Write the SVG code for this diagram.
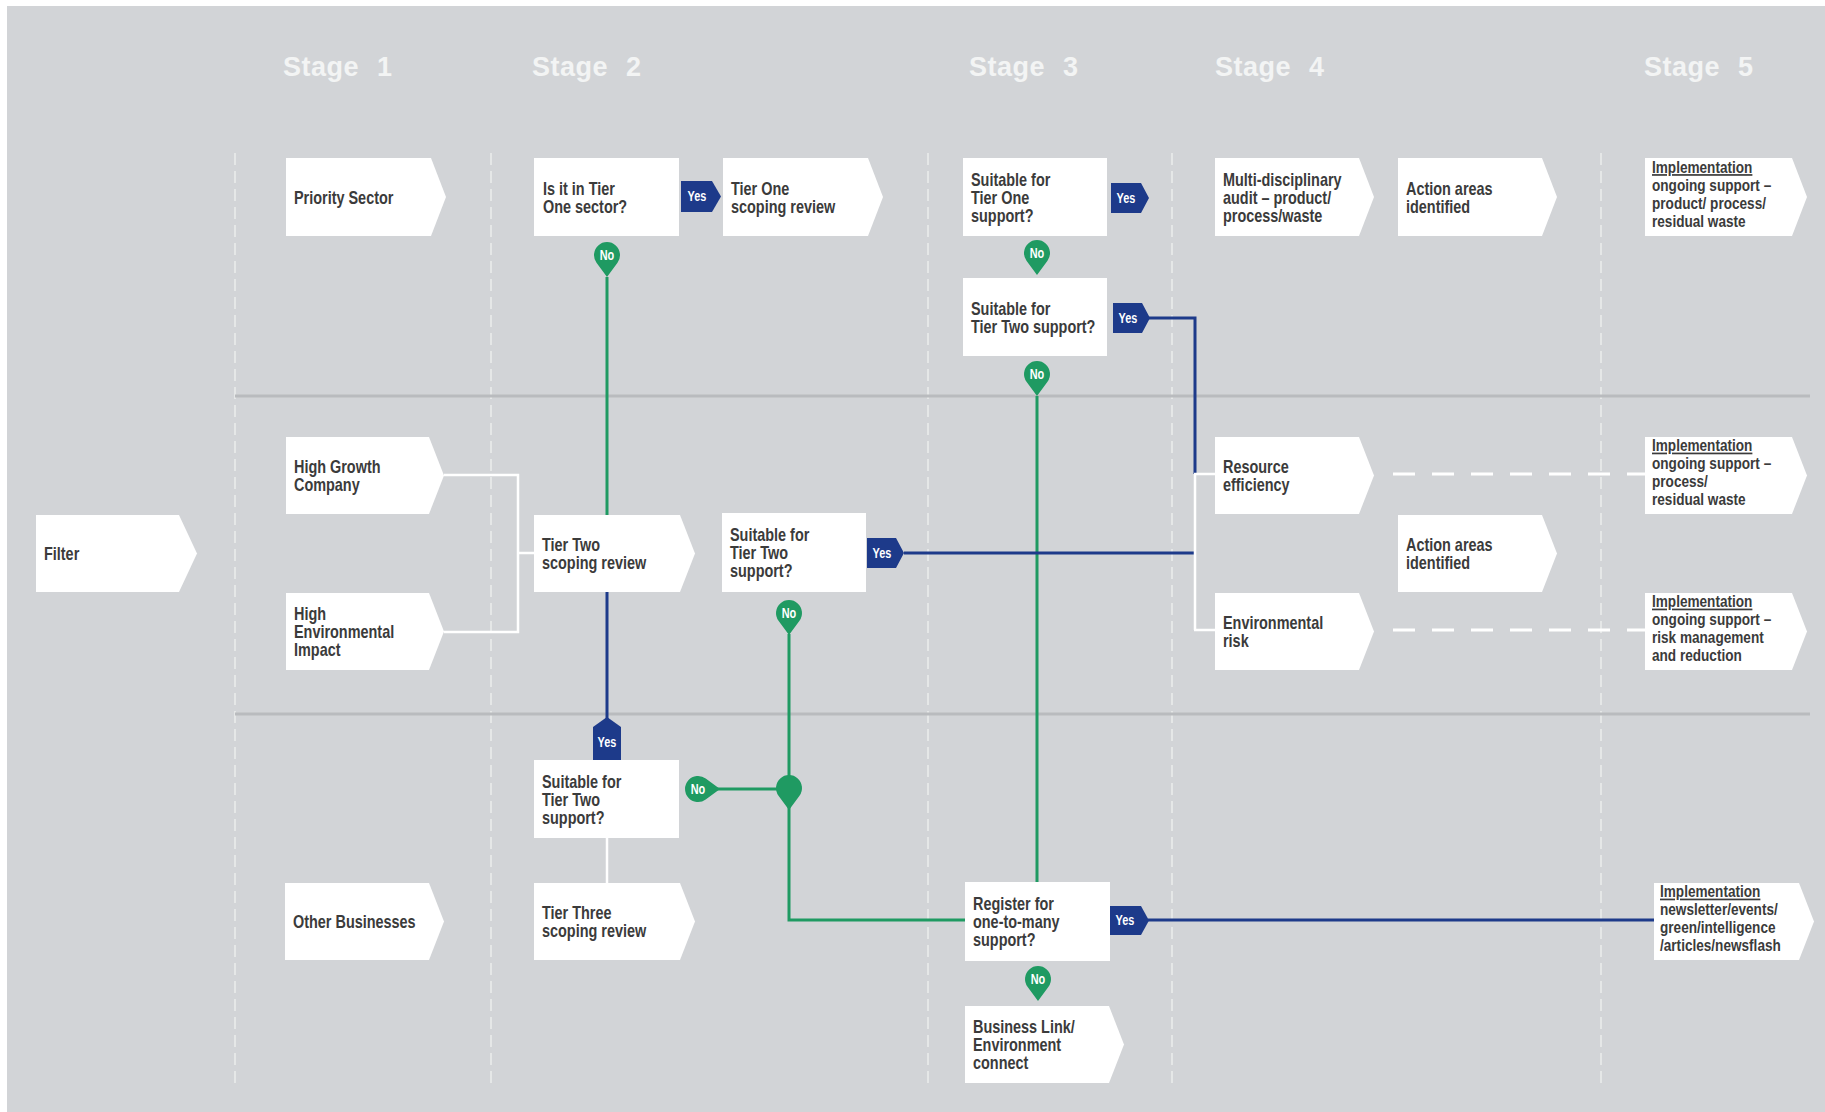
<svg xmlns="http://www.w3.org/2000/svg" width="1825" height="1112" viewBox="0 0 1825 1112">
<style>
.bg{fill:#d2d4d7}
.node{fill:#ffffff}
.lbl{font-family:"Liberation Sans",Arial,sans-serif;font-size:18.5px;font-weight:bold;fill:#3b3b3b}
.l4{font-size:17px}
.stage{font-family:"Liberation Sans",Arial,sans-serif;font-size:27px;font-weight:bold;fill:#f3f4f4;letter-spacing:0.5px;word-spacing:10px}
.tag{font-family:"Liberation Sans",Arial,sans-serif;font-size:14px;font-weight:bold;fill:#ffffff;text-anchor:middle}
.u{text-decoration:underline}
.lane{stroke:#b9bbbe;stroke-width:3;fill:none}
.vdash{stroke:#eceded;stroke-width:1.5;stroke-dasharray:12 6;fill:none}
.green{stroke:#1f9a62;stroke-width:3;fill:none}
.blue{stroke:#1d3a8a;stroke-width:3;fill:none}
.white{stroke:#ffffff;stroke-width:2.5;fill:none}
.wdash{stroke:#ffffff;stroke-width:3;stroke-dasharray:22 17;fill:none}
.gfill{fill:#1f9a62}
.bfill{fill:#1d3a8a}
</style>
<defs>
<path id="pin" d="M-10.5 7.7 A13 13 0 1 1 10.5 7.7 L0 22 Z"/>
</defs>
<rect x="0" y="0" width="1825" height="1112" fill="#ffffff"/>
<rect class="bg" x="7" y="6" width="1818" height="1106"/>

<g id="grid">
<line class="vdash" x1="235" y1="153" x2="235" y2="1083"/>
<line class="vdash" x1="491" y1="153" x2="491" y2="1083"/>
<line class="vdash" x1="928" y1="153" x2="928" y2="1083"/>
<line class="vdash" x1="1172" y1="153" x2="1172" y2="1083"/>
<line class="vdash" x1="1601" y1="153" x2="1601" y2="1083"/>
<line class="lane" x1="235" y1="396" x2="1810" y2="396"/>
<line class="lane" x1="235" y1="714" x2="1810" y2="714"/>
</g>

<g id="stages">
<text class="stage" x="283" y="76">Stage 1</text>
<text class="stage" x="532" y="76">Stage 2</text>
<text class="stage" x="969" y="76">Stage 3</text>
<text class="stage" x="1215" y="76">Stage 4</text>
<text class="stage" x="1644" y="76">Stage 5</text>
</g>

<g id="connectors">
<path class="green" d="M607 277 V515"/>
<path class="green" d="M1037 396 V882"/>
<path class="green" d="M789 634 V920 H965"/>
<path class="green" d="M717 789 H789"/>
<path class="blue" d="M607 592 V720"/>
<path class="blue" d="M904 553 H1195"/>
<path class="blue" d="M1149 318 H1195 V474"/>
<path class="blue" d="M1148 920 H1654"/>
<path class="white" d="M444 475 H518 V632 H444 M518 553 H534"/>
<path class="white" d="M1195 474 V630 M1194 474 H1215 M1194 630 H1215"/>
<path class="white" d="M607 838 V883"/>
<path class="wdash" d="M1393 474 H1645"/>
<path class="wdash" d="M1393 630 H1645"/>
</g>

<g id="filter"><path class="node" d="M36 515 H179 L197 553.5 L179 592 H36 Z"/>
<text class="lbl" transform="translate(44 0) scale(0.78 1)" x="0" y="560.5">Filter</text></g>

<g id="priority-sector"><path class="node" d="M286 158 H431 L446 197 L431 236 H286 Z"/>
<text class="lbl" transform="translate(294 0) scale(0.78 1)" x="0" y="204">Priority Sector</text></g>

<g id="high-growth"><path class="node" d="M286 437 H429 L444 475.5 L429 514 H286 Z"/>
<text class="lbl" transform="translate(294 0) scale(0.78 1)"><tspan x="0" y="473.5">High Growth</tspan><tspan x="0" y="491.5">Company</tspan></text></g>

<g id="high-env"><path class="node" d="M286 593 H429 L444 631.5 L429 670 H286 Z"/>
<text class="lbl" transform="translate(294 0) scale(0.78 1)"><tspan x="0" y="620.5">High</tspan><tspan x="0" y="638.5">Environmental</tspan><tspan x="0" y="656.5">Impact</tspan></text></g>

<g id="other-businesses"><path class="node" d="M285 883 H429 L444 921.5 L429 960 H285 Z"/>
<text class="lbl" transform="translate(293 0) scale(0.78 1)" x="0" y="928.5">Other Businesses</text></g>

<g id="q-tier-one-sector"><rect class="node" x="534" y="158" width="145" height="78"/>
<text class="lbl" transform="translate(543 0) scale(0.78 1)"><tspan x="0" y="195">Is it in Tier</tspan><tspan x="0" y="213">One sector?</tspan></text>
<path class="bfill" d="M681 181 H712 L721 196.5 L712 212 H681 Z"/>
<text class="tag" transform="translate(697 0) scale(0.78 1)" x="0" y="201.5">Yes</text>
<use href="#pin" class="gfill" transform="translate(607 255)"/>
<text class="tag" transform="translate(607 0) scale(0.78 1)" x="0" y="260">No</text></g>

<g id="tier-one-review"><path class="node" d="M723 158 H868 L883 197 L868 236 H723 Z"/>
<text class="lbl" transform="translate(731 0) scale(0.78 1)"><tspan x="0" y="195">Tier One</tspan><tspan x="0" y="213">scoping review</tspan></text></g>

<g id="tier-two-review"><path class="node" d="M534 515 H680 L695 553.5 L680 592 H534 Z"/>
<text class="lbl" transform="translate(542 0) scale(0.78 1)"><tspan x="0" y="551.5">Tier Two</tspan><tspan x="0" y="569.5">scoping review</tspan></text></g>

<g id="q-tier-two-s2"><rect class="node" x="722" y="513" width="144" height="79"/>
<text class="lbl" transform="translate(730 0) scale(0.78 1)"><tspan x="0" y="541.5">Suitable for</tspan><tspan x="0" y="559.5">Tier Two</tspan><tspan x="0" y="577.5">support?</tspan></text>
<path class="bfill" d="M867 538 H896 L904 553 L896 568 H867 Z"/>
<text class="tag" transform="translate(882 0) scale(0.78 1)" x="0" y="558">Yes</text>
<use href="#pin" class="gfill" transform="translate(789 613)"/>
<text class="tag" transform="translate(789 0) scale(0.78 1)" x="0" y="618">No</text></g>

<g id="q-tier-two-lane3"><rect class="node" x="534" y="760" width="145" height="78"/>
<text class="lbl" transform="translate(542 0) scale(0.78 1)"><tspan x="0" y="788">Suitable for</tspan><tspan x="0" y="806">Tier Two</tspan><tspan x="0" y="824">support?</tspan></text>
<path class="bfill" d="M593 760 V727 L607 717 L621 727 V760 Z"/>
<text class="tag" transform="translate(607 0) scale(0.78 1)" x="0" y="747">Yes</text>
<use href="#pin" class="gfill" transform="translate(698 789) rotate(-90)"/>
<text class="tag" transform="translate(698 0) scale(0.78 1)" x="0" y="794">No</text></g>

<g id="junction"><use href="#pin" class="gfill" transform="translate(789 788)"/></g>

<g id="tier-three-review"><path class="node" d="M534 883 H680 L695 921.5 L680 960 H534 Z"/>
<text class="lbl" transform="translate(542 0) scale(0.78 1)"><tspan x="0" y="919.5">Tier Three</tspan><tspan x="0" y="937.5">scoping review</tspan></text></g>

<g id="q-tier-one-s3"><rect class="node" x="963" y="158" width="144" height="78"/>
<text class="lbl" transform="translate(971 0) scale(0.78 1)"><tspan x="0" y="186">Suitable for</tspan><tspan x="0" y="204">Tier One</tspan><tspan x="0" y="222">support?</tspan></text>
<path class="bfill" d="M1111 183 H1141 L1149 198 L1141 213 H1111 Z"/>
<text class="tag" transform="translate(1126 0) scale(0.78 1)" x="0" y="203">Yes</text>
<use href="#pin" class="gfill" transform="translate(1037 253)"/>
<text class="tag" transform="translate(1037 0) scale(0.78 1)" x="0" y="258">No</text></g>

<g id="q-tier-two-s3"><rect class="node" x="963" y="278" width="144" height="78"/>
<text class="lbl" transform="translate(971 0) scale(0.78 1)"><tspan x="0" y="315">Suitable for</tspan><tspan x="0" y="333">Tier Two support?</tspan></text>
<path class="bfill" d="M1113 303 H1142 L1150 318 L1142 333 H1113 Z"/>
<text class="tag" transform="translate(1128 0) scale(0.78 1)" x="0" y="323">Yes</text>
<use href="#pin" class="gfill" transform="translate(1037 374)"/>
<text class="tag" transform="translate(1037 0) scale(0.78 1)" x="0" y="379">No</text></g>

<g id="q-register"><rect class="node" x="965" y="882" width="145" height="79"/>
<text class="lbl" transform="translate(973 0) scale(0.78 1)"><tspan x="0" y="910.5">Register for</tspan><tspan x="0" y="928.5">one-to-many</tspan><tspan x="0" y="946.5">support?</tspan></text>
<path class="bfill" d="M1110 906 H1141 L1149 920.5 L1141 935 H1110 Z"/>
<text class="tag" transform="translate(1125 0) scale(0.78 1)" x="0" y="925.5">Yes</text>
<use href="#pin" class="gfill" transform="translate(1038 979)"/>
<text class="tag" transform="translate(1038 0) scale(0.78 1)" x="0" y="984">No</text></g>

<g id="business-link"><path class="node" d="M965 1006 H1109 L1124 1044.5 L1109 1083 H965 Z"/>
<text class="lbl" transform="translate(973 0) scale(0.78 1)"><tspan x="0" y="1033.5">Business Link/</tspan><tspan x="0" y="1051.5">Environment</tspan><tspan x="0" y="1069.5">connect</tspan></text></g>

<g id="multi-audit"><path class="node" d="M1215 158 H1359 L1374 197 L1359 236 H1215 Z"/>
<text class="lbl" transform="translate(1223 0) scale(0.78 1)"><tspan x="0" y="186">Multi-disciplinary</tspan><tspan x="0" y="204">audit – product/</tspan><tspan x="0" y="222">process/waste</tspan></text></g>

<g id="action-areas-1"><path class="node" d="M1398 158 H1542 L1557 197 L1542 236 H1398 Z"/>
<text class="lbl" transform="translate(1406 0) scale(0.78 1)"><tspan x="0" y="195">Action areas</tspan><tspan x="0" y="213">identified</tspan></text></g>

<g id="resource-efficiency"><path class="node" d="M1215 437 H1359 L1374 475.5 L1359 514 H1215 Z"/>
<text class="lbl" transform="translate(1223 0) scale(0.78 1)"><tspan x="0" y="473.5">Resource</tspan><tspan x="0" y="491.5">efficiency</tspan></text></g>

<g id="environmental-risk"><path class="node" d="M1215 593 H1359 L1374 631.5 L1359 670 H1215 Z"/>
<text class="lbl" transform="translate(1223 0) scale(0.78 1)"><tspan x="0" y="629.5">Environmental</tspan><tspan x="0" y="647.5">risk</tspan></text></g>

<g id="action-areas-2"><path class="node" d="M1398 515 H1542 L1557 553.5 L1542 592 H1398 Z"/>
<text class="lbl" transform="translate(1406 0) scale(0.78 1)"><tspan x="0" y="551.5">Action areas</tspan><tspan x="0" y="569.5">identified</tspan></text></g>

<g id="impl-1"><path class="node" d="M1645 158 H1792 L1807 197 L1792 236 H1645 Z"/>
<text class="lbl l4" transform="translate(1652 0) scale(0.8 1)"><tspan x="0" y="173" class="u">Implementation</tspan><tspan x="0" y="191">ongoing support –</tspan><tspan x="0" y="209">product/ process/</tspan><tspan x="0" y="227">residual waste</tspan></text></g>

<g id="impl-2"><path class="node" d="M1645 437 H1792 L1807 475.5 L1792 514 H1645 Z"/>
<text class="lbl l4" transform="translate(1652 0) scale(0.8 1)"><tspan x="0" y="451.5" class="u">Implementation</tspan><tspan x="0" y="469.5">ongoing support –</tspan><tspan x="0" y="487.5">process/</tspan><tspan x="0" y="505.5">residual waste</tspan></text></g>

<g id="impl-3"><path class="node" d="M1645 593 H1792 L1807 631.5 L1792 670 H1645 Z"/>
<text class="lbl l4" transform="translate(1652 0) scale(0.8 1)"><tspan x="0" y="607.5" class="u">Implementation</tspan><tspan x="0" y="625.5">ongoing support –</tspan><tspan x="0" y="643.5">risk management</tspan><tspan x="0" y="661.5">and reduction</tspan></text></g>

<g id="impl-4"><path class="node" d="M1654 883 H1799 L1814 921.5 L1799 960 H1654 Z"/>
<text class="lbl l4" transform="translate(1660 0) scale(0.8 1)"><tspan x="0" y="897.5" class="u">Implementation</tspan><tspan x="0" y="915.5">newsletter/events/</tspan><tspan x="0" y="933.5">green/intelligence</tspan><tspan x="0" y="951.5">/articles/newsflash</tspan></text></g>
</svg>
